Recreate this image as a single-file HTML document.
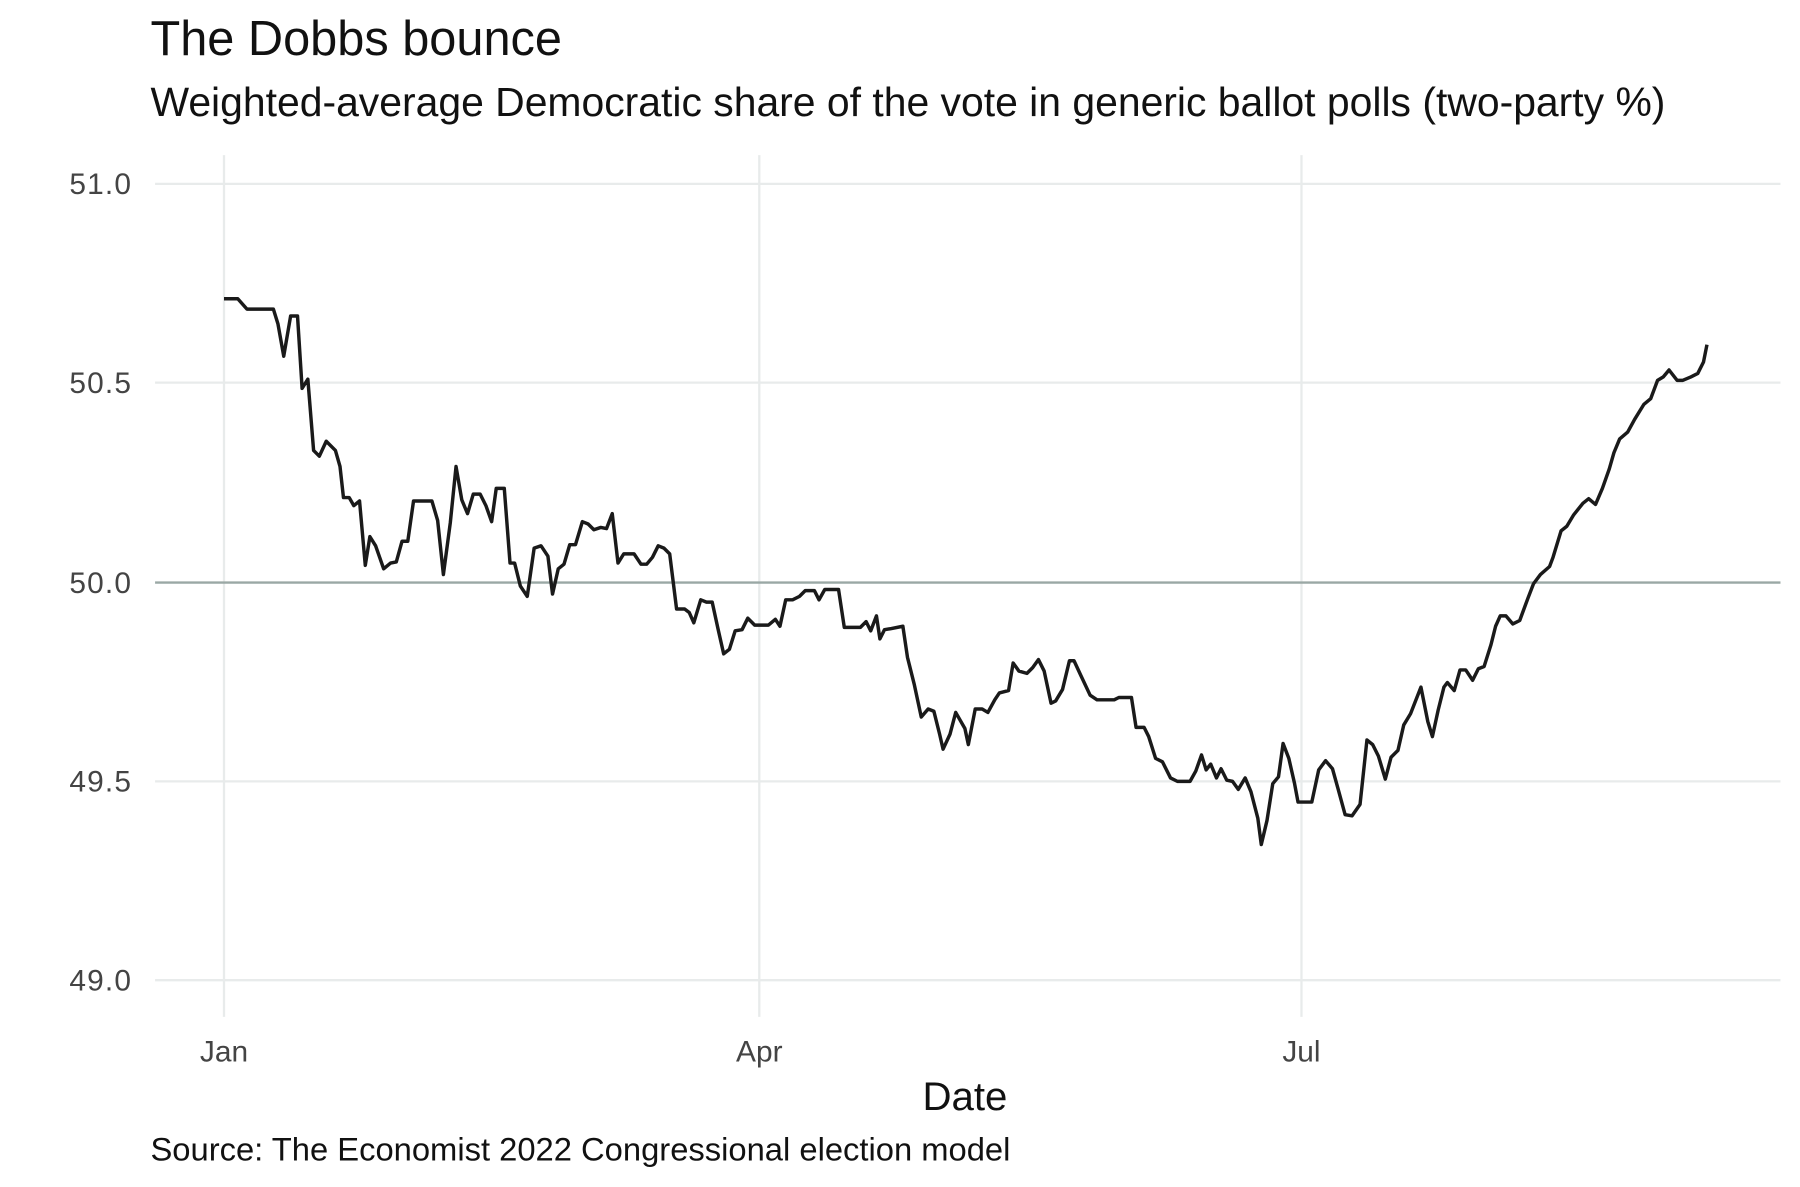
<!DOCTYPE html>
<html><head><meta charset="utf-8"><style>
html,body{margin:0;padding:0;background:#fff;}
svg{display:block;}
text{font-family:"Liberation Sans",sans-serif;}
</style></head><body>
<svg width="1800" height="1187" viewBox="0 0 1567 1033" preserveAspectRatio="none">
<rect width="1567" height="1033" fill="#fff"/>
<text x="131" y="48" font-size="42.4" fill="#111">The Dobbs bounce</text>
<text x="131" y="101" font-size="35.6" fill="#111">Weighted-average Democratic share of the vote in generic ballot polls (two-party %)</text>
<g stroke="#e8ebeb" stroke-width="2">
<line x1="135" x2="1550" y1="160" y2="160"/>
<line x1="135" x2="1550" y1="333" y2="333"/>
<line x1="135" x2="1550" y1="680" y2="680"/>
<line x1="135" x2="1550" y1="853" y2="853"/>
<line x1="195" x2="195" y1="135" y2="885"/>
<line x1="661" x2="661" y1="135" y2="885"/>
<line x1="1133" x2="1133" y1="135" y2="885"/>
</g>
<line x1="135" x2="1550" y1="507" y2="507" stroke="#9aa8a5" stroke-width="2"/>
<g font-size="26" fill="#444" text-anchor="end" letter-spacing="1">
<text x="115" y="169">51.0</text>
<text x="115" y="342">50.5</text>
<text x="115" y="516">50.0</text>
<text x="115" y="689">49.5</text>
<text x="115" y="862">49.0</text>
</g>
<g font-size="26" fill="#444" text-anchor="middle">
<text x="195" y="924">Jan</text>
<text x="661" y="924">Apr</text>
<text x="1133" y="924">Jul</text>
</g>
<text x="840" y="966" font-size="35" fill="#111" text-anchor="middle">Date</text>
<text x="131" y="1010" font-size="28.5" fill="#111">Source: The Economist 2022 Congressional election model</text>
<polyline fill="none" stroke="#1a1a1a" stroke-width="3" stroke-linejoin="round" points="195,260 207,260 215,269 238,269 242,282 247,310 253,275 259,275 263,338 268,330 273,392 278,397 284,384 292,392 296,406 299,433 304,433 308,440 313,436 318,492 322,467 327,475 334,495 340,490 345,489 350,471 355,471 360,436 376,436 381,453 386,500 392,455 397,406 402,435 407,447 412,430 418,430 423,440 428,454 432,425 439,425 444,490 448,490 453,510 459,519 465,477 471,475 477,484 481,517 486,495 491,491 496,474 501,474 507,454 512,456 517,461 523,459 528,460 533,447 538,490 543,482 552,482 558,491 563,491 568,485 573,475 578,477 583,482 589,530 596,530 600,533 604,542 610,522 615,524 620,524 625,547 630,569 635,565 640,549 646,548 651,538 657,544 663,544 669,544 675,539 679,545 684,522 690,522 696,519 701,514 709,514 713,522 718,513 724,513 730,513 735,546 749,546 754,541 758,549 763,536 766,556 770,548 776,547 786,545 790,572 796,596 802,624 808,617 813,619 818,639 821,652 827,639 832,620 840,634 843,648 849,617 855,617 860,620 866,609 870,603 878,601 882,577 887,584 894,586 899,581 904,574 909,584 915,612 919,610 925,600 931,575 935,575 941,588 949,605 955,609 963,609 970,609 974,607 985,607 989,633 996,633 1000,641 1006,660 1012,663 1019,677 1025,680 1031,680 1036,680 1041,671 1046,657 1050,670 1054,665 1059,677 1063,669 1068,679 1073,680 1078,687 1084,677 1089,689 1095,712 1098,735 1103,714 1108,682 1113,676 1117,647 1122,660 1127,682 1130,698 1136,698 1142,698 1148,670 1154,662 1160,669 1165,687 1171,709 1177,710 1184,700 1190,644 1195,648 1200,658 1206,678 1211,659 1217,653 1222,631 1228,621 1237,598 1243,628 1247,641 1252,618 1257,598 1260,594 1266,601 1271,583 1276,583 1282,592 1287,582 1292,580 1298,561 1302,545 1306,536 1311,536 1317,543 1323,540 1330,521 1335,508 1341,500 1349,493 1352,485 1359,462 1364,458 1370,448 1378,438 1383,434 1389,439 1395,425 1401,408 1405,394 1410,382 1417,376 1423,365 1431,352 1437,347 1443,331 1448,328 1453,322 1460,331 1465,331 1472,328 1478,325 1483,315 1486,300"/>
</svg>
</body></html>
